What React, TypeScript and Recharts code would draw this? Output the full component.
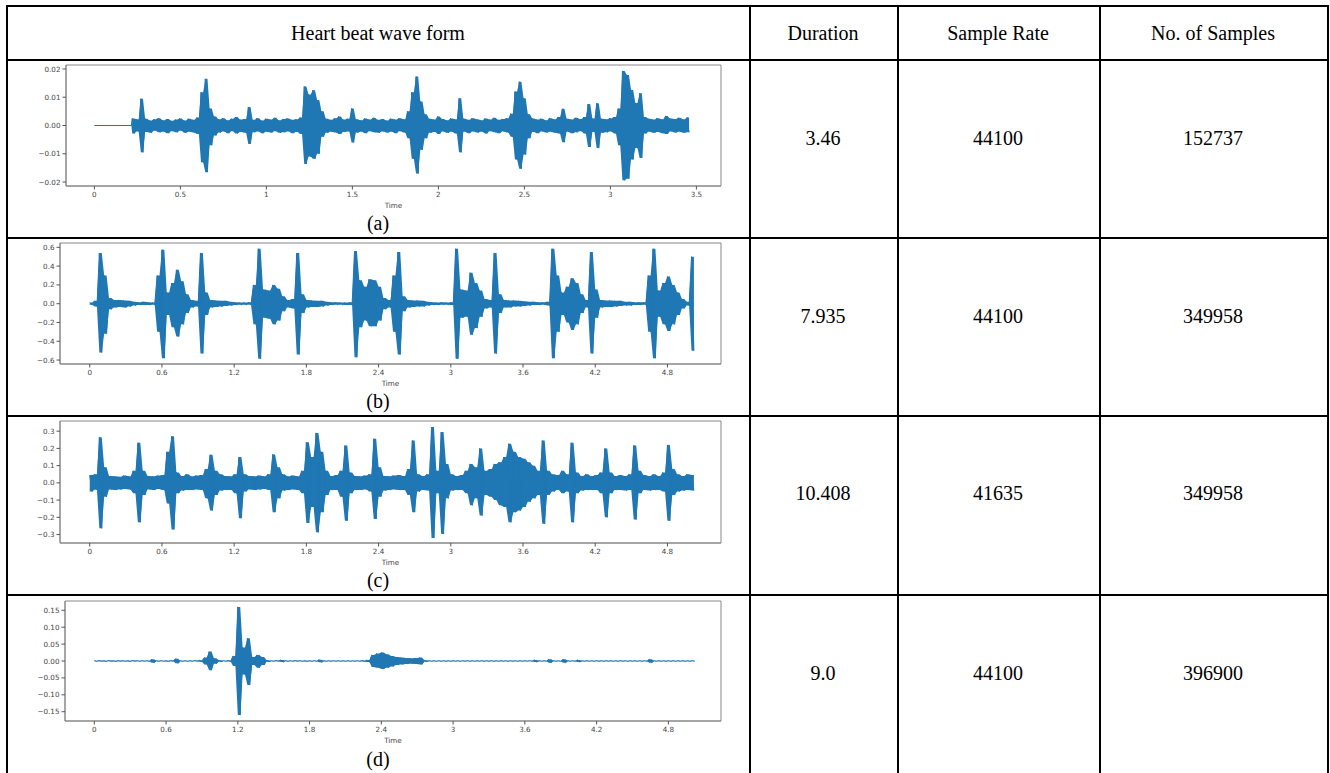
import { ComposedChart, Line, Area, XAxis, YAxis, ReferenceArea } from 'recharts';

// (a) 3.46 s clip, envelope per 0.025 s bin starting at 0.22 s
const aLeadIn = [[0, 0], [0.215, 0]];
const aStart = 0.22;
const aStep = 0.025;
const aHi = [
    0.0025, 0.0022, 0.0095, 0.0024, 0.0018, 0.0022, 0.0026, 0.0019, 0.0023, 0.0017,
    0.0021, 0.0025, 0.0018, 0.0024, 0.0020, 0.0028, 0.0118, 0.0165, 0.0060, 0.0032,
    0.0022, 0.0026, 0.0019, 0.0024, 0.0030, 0.0021, 0.0023, 0.0065, 0.0020, 0.0026,
    0.0018, 0.0024, 0.0021, 0.0027, 0.0019, 0.0023, 0.0025, 0.0020, 0.0022, 0.0028,
    0.0138, 0.0110, 0.0125, 0.0090, 0.0050, 0.0024, 0.0020, 0.0026, 0.0032, 0.0021,
    0.0024, 0.0060, 0.0022, 0.0019, 0.0025, 0.0021, 0.0027, 0.0020, 0.0023, 0.0018,
    0.0024, 0.0021, 0.0026, 0.0022, 0.0050, 0.0118, 0.0173, 0.0085, 0.0040, 0.0024,
    0.0021, 0.0032, 0.0023, 0.0019, 0.0025, 0.0022, 0.0096, 0.0024, 0.0020, 0.0026,
    0.0022, 0.0019, 0.0025, 0.0021, 0.0027, 0.0020, 0.0023, 0.0026, 0.0042, 0.0120,
    0.0155, 0.0096, 0.0040, 0.0025, 0.0021, 0.0024, 0.0019, 0.0026, 0.0022, 0.0030,
    0.0059, 0.0024, 0.0021, 0.0027, 0.0023, 0.0030, 0.0076, 0.0025, 0.0079, 0.0024,
    0.0022, 0.0026, 0.0030, 0.0060, 0.0193, 0.0179, 0.0126, 0.0080, 0.0114, 0.0030,
    0.0024, 0.0021, 0.0026, 0.0022, 0.0034, 0.0025, 0.0023, 0.0027, 0.0022, 0.0028,
];
const aLo = [
    -0.0028, -0.0021, -0.0095, -0.0023, -0.0026, -0.0019, -0.0024, -0.0022, -0.0027, -0.0020,
    -0.0024, -0.0019, -0.0026, -0.0022, -0.0025, -0.0030, -0.0130, -0.0165, -0.0070, -0.0035,
    -0.0025, -0.0021, -0.0027, -0.0020, -0.0028, -0.0023, -0.0026, -0.0065, -0.0024, -0.0021,
    -0.0027, -0.0022, -0.0025, -0.0020, -0.0026, -0.0024, -0.0021, -0.0027, -0.0023, -0.0030,
    -0.0136, -0.0110, -0.0118, -0.0100, -0.0040, -0.0026, -0.0022, -0.0025, -0.0030, -0.0023,
    -0.0021, -0.0060, -0.0025, -0.0022, -0.0027, -0.0020, -0.0024, -0.0026, -0.0021, -0.0025,
    -0.0022, -0.0027, -0.0020, -0.0025, -0.0045, -0.0118, -0.0170, -0.0086, -0.0045, -0.0026,
    -0.0023, -0.0030, -0.0021, -0.0026, -0.0022, -0.0028, -0.0095, -0.0022, -0.0027, -0.0021,
    -0.0025, -0.0022, -0.0028, -0.0020, -0.0024, -0.0027, -0.0021, -0.0025, -0.0040, -0.0120,
    -0.0153, -0.0103, -0.0045, -0.0023, -0.0027, -0.0021, -0.0025, -0.0022, -0.0026, -0.0028,
    -0.0059, -0.0022, -0.0027, -0.0024, -0.0020, -0.0028, -0.0076, -0.0023, -0.0080, -0.0026,
    -0.0024, -0.0021, -0.0028, -0.0070, -0.0194, -0.0188, -0.0120, -0.0080, -0.0115, -0.0028,
    -0.0022, -0.0026, -0.0023, -0.0027, -0.0030, -0.0021, -0.0025, -0.0022, -0.0026, -0.0024,
];
const aXTicks = [0, 0.5, 1, 1.5, 2, 2.5, 3, 3.5];
const aXLabels = ['0', '0.5', '1', '1.5', '2', '2.5', '3', '3.5'];
const aYTicks = [-0.02, -0.01, 0, 0.01, 0.02];
const aYLabels = ['\u22120.02', '\u22120.01', '0.00', '0.01', '0.02'];

// (b), (c), (d) share the 0..5 s window, 0.04 s bins
const bcdStart = 0;
const bcdStep = 0.04;
const bcdXTicks = [0, 0.6, 1.2, 1.8, 2.4, 3, 3.6, 4.2, 4.8];
const bcdXLabels = ['0', '0.6', '1.2', '1.8', '2.4', '3', '3.6', '4.2', '4.8'];

const bHi = [
    0.012, 0.03, 0.54, 0.30, 0.06, 0.04, 0.04, 0.035, 0.03, 0.02,
    0.015, 0.02, 0.015, 0.012, 0.30, 0.575, 0.12, 0.22, 0.36, 0.24,
    0.10, 0.04, 0.03, 0.54, 0.12, 0.04, 0.035, 0.03, 0.03, 0.02,
    0.015, 0.012, 0.012, 0.015, 0.20, 0.585, 0.15, 0.14, 0.20, 0.16,
    0.08, 0.04, 0.05, 0.54, 0.10, 0.04, 0.035, 0.03, 0.03, 0.02,
    0.015, 0.015, 0.012, 0.012, 0.015, 0.56, 0.25, 0.18, 0.26, 0.25,
    0.18, 0.06, 0.04, 0.30, 0.55, 0.08, 0.04, 0.035, 0.035, 0.03,
    0.02, 0.015, 0.012, 0.015, 0.012, 0.015, 0.585, 0.15, 0.14, 0.33,
    0.22, 0.14, 0.05, 0.04, 0.54, 0.10, 0.04, 0.035, 0.035, 0.03,
    0.025, 0.02, 0.02, 0.015, 0.015, 0.02, 0.585, 0.30, 0.12, 0.18,
    0.27, 0.22, 0.10, 0.04, 0.55, 0.15, 0.04, 0.035, 0.035, 0.03,
    0.03, 0.02, 0.02, 0.015, 0.015, 0.015, 0.30, 0.585, 0.14, 0.22,
    0.29, 0.20, 0.12, 0.05, 0.02, 0.50,
];
const bLo = [
    -0.012, -0.03, -0.52, -0.32, -0.06, -0.04, -0.035, -0.04, -0.03, -0.02,
    -0.015, -0.015, -0.015, -0.012, -0.30, -0.58, -0.12, -0.25, -0.35, -0.22,
    -0.10, -0.04, -0.03, -0.53, -0.12, -0.04, -0.035, -0.03, -0.025, -0.02,
    -0.015, -0.012, -0.012, -0.012, -0.22, -0.585, -0.15, -0.16, -0.22, -0.18,
    -0.08, -0.04, -0.05, -0.54, -0.10, -0.04, -0.035, -0.035, -0.03, -0.02,
    -0.015, -0.012, -0.012, -0.015, -0.015, -0.57, -0.25, -0.18, -0.24, -0.24,
    -0.18, -0.06, -0.04, -0.30, -0.54, -0.08, -0.04, -0.035, -0.03, -0.03,
    -0.02, -0.015, -0.015, -0.012, -0.012, -0.015, -0.585, -0.15, -0.14, -0.33,
    -0.26, -0.14, -0.05, -0.04, -0.53, -0.10, -0.04, -0.04, -0.03, -0.03,
    -0.025, -0.02, -0.015, -0.015, -0.012, -0.02, -0.58, -0.30, -0.12, -0.20,
    -0.28, -0.22, -0.10, -0.04, -0.53, -0.15, -0.04, -0.035, -0.035, -0.03,
    -0.025, -0.02, -0.02, -0.015, -0.015, -0.012, -0.30, -0.58, -0.14, -0.22,
    -0.29, -0.22, -0.12, -0.05, -0.02, -0.50,
];
const bYTicks = [-0.6, -0.4, -0.2, 0, 0.2, 0.4, 0.6];
const bYLabels = ['\u22120.6', '\u22120.4', '\u22120.2', '0.0', '0.2', '0.4', '0.6'];

const cHi = [
    0.045, 0.05, 0.265, 0.09, 0.04, 0.038, 0.035, 0.042, 0.038, 0.07,
    0.233, 0.07, 0.04, 0.038, 0.042, 0.045, 0.18, 0.27, 0.06, 0.04,
    0.05, 0.038, 0.042, 0.045, 0.08, 0.163, 0.07, 0.05, 0.04, 0.038,
    0.05, 0.15, 0.05, 0.04, 0.038, 0.042, 0.038, 0.05, 0.165, 0.09,
    0.05, 0.038, 0.042, 0.038, 0.07, 0.236, 0.15, 0.29, 0.18, 0.07,
    0.04, 0.045, 0.07, 0.217, 0.06, 0.04, 0.038, 0.042, 0.05, 0.256,
    0.09, 0.04, 0.038, 0.042, 0.045, 0.04, 0.08, 0.246, 0.05, 0.04,
    0.05, 0.324, 0.07, 0.295, 0.11, 0.05, 0.04, 0.045, 0.07, 0.11,
    0.09, 0.20, 0.07, 0.08, 0.11, 0.12, 0.15, 0.227, 0.18, 0.15,
    0.14, 0.12, 0.10, 0.07, 0.246, 0.07, 0.05, 0.045, 0.07, 0.05,
    0.233, 0.06, 0.04, 0.05, 0.04, 0.045, 0.06, 0.20, 0.06, 0.04,
    0.045, 0.04, 0.05, 0.217, 0.07, 0.045, 0.04, 0.05, 0.04, 0.06,
    0.22, 0.08, 0.05, 0.04, 0.05, 0.045,
];
const cLo = [
    -0.05, -0.04, -0.264, -0.08, -0.038, -0.042, -0.038, -0.035, -0.038, -0.06,
    -0.229, -0.07, -0.038, -0.042, -0.035, -0.042, -0.12, -0.27, -0.06, -0.045,
    -0.042, -0.042, -0.038, -0.042, -0.09, -0.16, -0.07, -0.045, -0.042, -0.042,
    -0.06, -0.205, -0.05, -0.038, -0.042, -0.038, -0.035, -0.042, -0.17, -0.09,
    -0.045, -0.042, -0.038, -0.042, -0.06, -0.233, -0.14, -0.287, -0.17, -0.07,
    -0.042, -0.042, -0.08, -0.22, -0.06, -0.042, -0.042, -0.038, -0.05, -0.21,
    -0.08, -0.045, -0.042, -0.038, -0.042, -0.042, -0.07, -0.17, -0.05, -0.042,
    -0.045, -0.32, -0.06, -0.297, -0.09, -0.045, -0.042, -0.042, -0.06, -0.13,
    -0.09, -0.19, -0.07, -0.08, -0.10, -0.13, -0.14, -0.229, -0.17, -0.16,
    -0.14, -0.11, -0.09, -0.07, -0.238, -0.07, -0.05, -0.042, -0.06, -0.05,
    -0.229, -0.06, -0.045, -0.042, -0.042, -0.042, -0.06, -0.20, -0.06, -0.042,
    -0.042, -0.045, -0.042, -0.213, -0.06, -0.042, -0.045, -0.042, -0.042, -0.05,
    -0.22, -0.07, -0.05, -0.045, -0.042, -0.045,
];
const cYTicks = [-0.3, -0.2, -0.1, 0, 0.1, 0.2, 0.3];
const cYLabels = ['\u22120.3', '\u22120.2', '\u22120.1', '0.0', '0.1', '0.2', '0.3'];

const dHi = [
    0.001, 0.0012, 0.001, 0.0015, 0.001, 0.0012, 0.001, 0.001, 0.0015, 0.001,
    0.001, 0.001, 0.005, 0.001, 0.001, 0.001, 0.0015, 0.007, 0.001, 0.001,
    0.001, 0.0015, 0.002, 0.01, 0.028, 0.008, 0.002, 0.001, 0.0015, 0.015,
    0.16, 0.04, 0.067, 0.012, 0.018, 0.012, 0.002, 0.001, 0.0015, 0.003,
    0.001, 0.001, 0.0012, 0.001, 0.001, 0.001, 0.001, 0.004, 0.001, 0.001,
    0.001, 0.001, 0.001, 0.001, 0.001, 0.001, 0.0015, 0.003, 0.018, 0.022,
    0.025, 0.02, 0.015, 0.012, 0.01, 0.009, 0.008, 0.009, 0.01, 0.002,
    0.001, 0.001, 0.001, 0.001, 0.001, 0.001, 0.001, 0.001, 0.001, 0.001,
    0.001, 0.001, 0.001, 0.001, 0.001, 0.001, 0.001, 0.001, 0.001, 0.001,
    0.001, 0.001, 0.003, 0.001, 0.001, 0.005, 0.001, 0.001, 0.005, 0.001,
    0.001, 0.003, 0.001, 0.001, 0.001, 0.001, 0.001, 0.001, 0.001, 0.001,
    0.001, 0.001, 0.001, 0.001, 0.001, 0.001, 0.005, 0.001, 0.001, 0.001,
    0.001, 0.001, 0.001, 0.001, 0.001, 0.001,
];
const dLo = [
    -0.001, -0.001, -0.0012, -0.001, -0.0015, -0.001, -0.001, -0.0012, -0.001, -0.001,
    -0.001, -0.001, -0.005, -0.001, -0.001, -0.0012, -0.001, -0.007, -0.001, -0.001,
    -0.001, -0.001, -0.002, -0.01, -0.027, -0.008, -0.002, -0.001, -0.0015, -0.015,
    -0.16, -0.04, -0.071, -0.012, -0.02, -0.012, -0.002, -0.001, -0.001, -0.003,
    -0.001, -0.001, -0.001, -0.001, -0.0012, -0.001, -0.001, -0.004, -0.001, -0.001,
    -0.001, -0.001, -0.001, -0.001, -0.001, -0.001, -0.0015, -0.003, -0.018, -0.02,
    -0.024, -0.02, -0.016, -0.012, -0.01, -0.009, -0.008, -0.009, -0.01, -0.002,
    -0.001, -0.001, -0.001, -0.001, -0.001, -0.001, -0.001, -0.001, -0.001, -0.001,
    -0.001, -0.001, -0.001, -0.001, -0.001, -0.001, -0.001, -0.001, -0.001, -0.001,
    -0.001, -0.001, -0.003, -0.001, -0.001, -0.005, -0.001, -0.001, -0.005, -0.001,
    -0.001, -0.003, -0.001, -0.001, -0.001, -0.001, -0.001, -0.001, -0.001, -0.001,
    -0.001, -0.001, -0.001, -0.001, -0.001, -0.001, -0.005, -0.001, -0.001, -0.001,
    -0.001, -0.001, -0.001, -0.001, -0.001, -0.001,
];
const dYTicks = [-0.15, -0.1, -0.05, 0, 0.05, 0.1, 0.15];
const dYLabels = ['\u22120.15', '\u22120.10', '\u22120.05', '0.00', '0.05', '0.10', '0.15'];

// table text
const headers = ['Heart beat wave form', 'Duration', 'Sample Rate', 'No. of Samples'];
const captions = ['(a)', '(b)', '(c)', '(d)'];
const durations = ['3.46', '7.935', '10.408', '9.0'];
const sampleRates = ['44100', '44100', '41635', '44100'];
const sampleCounts = ['152737', '349958', '349958', '396900'];

interface WavePoint {
    t: number;
    v: number;
    env: [number, number];
}

// waveform: max of each bin, then min half a bin later; env fills the bin's band
function zigzag(start: number, step: number, hi: number[], lo: number[], lead: number[][] = []) {
    const pts: WavePoint[] = lead.map(([t, v]) => ({ t, v, env: [v, v] }));
    hi.forEach((h, i) => {
        const t = start + i * step;
        pts.push({ t, v: h, env: [lo[i], h] });
        pts.push({ t: t + step / 2, v: lo[i], env: [lo[i], h] });
    });
    return pts;
}

const tickStyle = { fontSize: 7.2, fill: '#444', fontFamily: 'DejaVu Sans' };
const waveBlue = '#1f77b4';

interface WaveProps {
    data: WavePoint[];
    box: [number, number, number, number];
    xDomain: [number, number];
    yDomain: [number, number];
    xTicks: number[];
    xLabels: string[];
    yTicks: number[];
    yLabels: string[];
}

function WaveChart({ data, box, xDomain, yDomain, xTicks, xLabels, yTicks, yLabels }: WaveProps) {
    const yW = 50;
    const mTop = 4;
    const mRight = 4;
    const xH = 28;
    const [left, top, right, bottom] = box;
    const w = right - left;
    const h = bottom - top;
    return (
        <div style={{ position: 'absolute', left: left - yW, top: top - mTop }}>
            <ComposedChart
                width={yW + w + mRight}
                height={mTop + h + xH}
                data={data}
                margin={{ top: mTop, right: mRight, bottom: 0, left: 0 }}
            >
                <XAxis
                    dataKey="t"
                    type="number"
                    domain={xDomain}
                    ticks={xTicks}
                    interval={0}
                    allowDataOverflow
                    height={xH}
                    tickSize={3.5}
                    tick={tickStyle}
                    tickLine={{ stroke: '#555' }}
                    axisLine={{ stroke: '#888' }}
                    tickFormatter={(_v: number, i: number) => xLabels[i]}
                    label={{ value: 'Time', position: 'insideBottom', offset: 6, style: tickStyle }}
                />
                <YAxis
                    type="number"
                    domain={yDomain}
                    ticks={yTicks}
                    interval={0}
                    allowDataOverflow
                    width={yW}
                    tickSize={3.5}
                    tick={tickStyle}
                    tickLine={{ stroke: '#555' }}
                    axisLine={{ stroke: '#888' }}
                    tickFormatter={(_v: number, i: number) => yLabels[i]}
                />
                <ReferenceArea
                    x1={xDomain[0]}
                    x2={xDomain[1]}
                    y1={yDomain[0]}
                    y2={yDomain[1]}
                    fill="none"
                    stroke="#888"
                    strokeWidth={1}
                />
                <Area
                    type="linear"
                    dataKey="env"
                    stroke="none"
                    fill={waveBlue}
                    fillOpacity={1}
                    dot={false}
                    activeDot={false}
                    isAnimationActive={false}
                />
                <Line
                    type="linear"
                    dataKey="v"
                    stroke={waveBlue}
                    strokeWidth={1}
                    dot={false}
                    activeDot={false}
                    isAnimationActive={false}
                />
            </ComposedChart>
        </div>
    );
}

const cellText = (text: string, x: number, y: number) => (
    <div
        key={text + x + y}
        style={{
            position: 'absolute',
            left: x,
            top: y,
            transform: 'translate(-50%, -50%)',
            whiteSpace: 'nowrap',
            fontSize: 20,
            lineHeight: 1,
        }}
    >
        {text}
    </div>
);

const hLine = (y: number) => (
    <div key={'h' + y} style={{ position: 'absolute', left: 6, top: y - 1, width: 1323, height: 2, background: '#000' }} />
);
const vLine = (x: number) => (
    <div key={'v' + x} style={{ position: 'absolute', left: x - 1, top: 5, width: 2, height: 768, background: '#000' }} />
);

export default function App() {
    const rowTextY = [138, 316, 493, 673];
    const captionY = [223, 401, 580, 759];
    const colX = [823, 998, 1213];
    return (
        <div
            style={{
                position: 'absolute',
                left: 0,
                top: 0,
                width: 1330,
                height: 773,
                overflow: 'hidden',
                background: '#fff',
                fontFamily: '"Liberation Serif", "Times New Roman", serif',
                color: '#000',
            }}
        >
            <WaveChart
                data={zigzag(aStart, aStep, aHi, aLo, aLeadIn)}
                box={[66, 65, 721, 186]}
                xDomain={[-0.165, 3.643]}
                yDomain={[-0.0214, 0.0214]}
                xTicks={aXTicks}
                xLabels={aXLabels}
                yTicks={aYTicks}
                yLabels={aYLabels}
            />
            <WaveChart
                data={zigzag(bcdStart, bcdStep, bHi, bLo)}
                box={[60, 243, 721, 364]}
                xDomain={[-0.247, 5.245]}
                yDomain={[-0.642, 0.646]}
                xTicks={bcdXTicks}
                xLabels={bcdXLabels}
                yTicks={bYTicks}
                yLabels={bYLabels}
            />
            <WaveChart
                data={zigzag(bcdStart, bcdStep, cHi, cLo)}
                box={[60, 421, 721, 543]}
                xDomain={[-0.247, 5.245]}
                yDomain={[-0.349, 0.359]}
                xTicks={bcdXTicks}
                xLabels={bcdXLabels}
                yTicks={cYTicks}
                yLabels={cYLabels}
            />
            <WaveChart
                data={zigzag(bcdStart, bcdStep, dHi, dLo)}
                box={[65, 601, 721, 721]}
                xDomain={[-0.245, 5.24]}
                yDomain={[-0.1775, 0.1775]}
                xTicks={bcdXTicks}
                xLabels={bcdXLabels}
                yTicks={dYTicks}
                yLabels={dYLabels}
            />

            {hLine(6)}
            {hLine(60)}
            {hLine(238)}
            {hLine(416)}
            {hLine(595)}
            {vLine(7)}
            {vLine(750)}
            {vLine(898)}
            {vLine(1100)}
            {vLine(1328)}

            {cellText(headers[0], 378, 33)}
            {cellText(headers[1], colX[0], 33)}
            {cellText(headers[2], colX[1], 33)}
            {cellText(headers[3], colX[2], 33)}
            {captions.map((c, i) => cellText(c, 378, captionY[i]))}
            {durations.map((d, i) => cellText(d, colX[0], rowTextY[i]))}
            {sampleRates.map((s, i) => cellText(s, colX[1], rowTextY[i]))}
            {sampleCounts.map((s, i) => cellText(s, colX[2], rowTextY[i]))}
        </div>
    );
}
